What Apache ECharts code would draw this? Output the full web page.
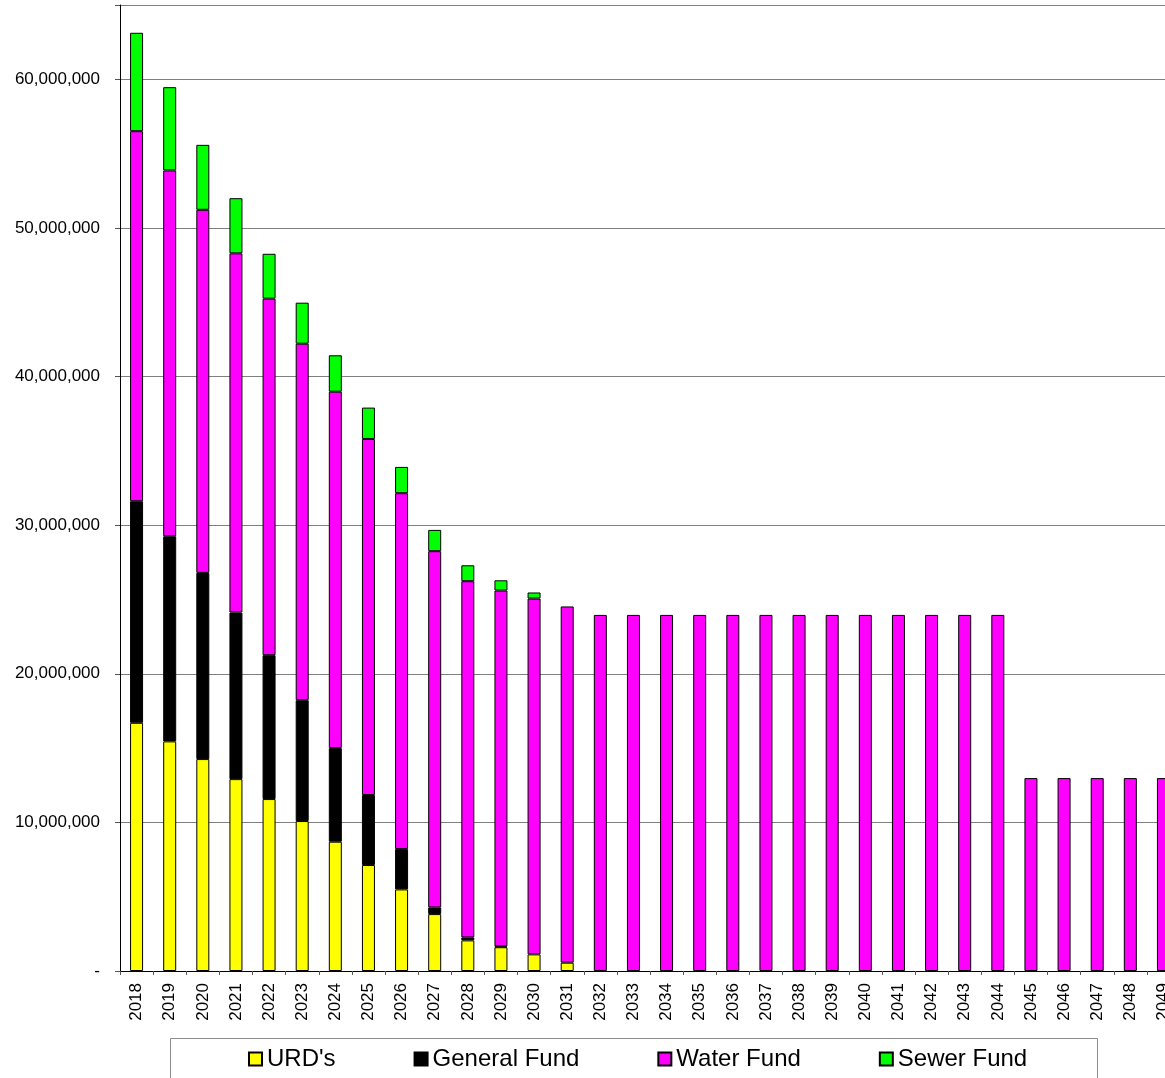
<!DOCTYPE html>
<html>
<head>
<meta charset="utf-8">
<title>Outstanding Debt by Fund</title>
<script src="https://cdn.jsdelivr.net/npm/echarts@6/dist/echarts.min.js"></script>
<style>
  html, body { margin: 0; padding: 0; background: #ffffff; overflow: hidden; }
  /* the plot runs past the right edge of the page, so the last year is clipped */
  #chart { width: 1180px; height: 1078px; }
</style>
</head>
<body>
<div id="chart"></div>
<script>
// Fiscal years on the category axis
const years = ['2018','2019','2020','2021','2022','2023','2024','2025','2026','2027',
  '2028','2029','2030','2031','2032','2033','2034','2035','2036','2037','2038','2039',
  '2040','2041','2042','2043','2044','2045','2046','2047','2048','2049'];

// Outstanding balances by fund (dollars)
const urds = [16700000, 15450000, 14260000, 12910000, 11570000, 10090000, 8700000, 7130000,
  5490000, 3830000, 2060000, 1600000, 1120000, 560000,
  null, null, null, null, null, null, null, null, null, null, null, null, null,
  null, null, null, null, null];
const generalFund = [14910000, 13800000, 12530000, 11210000, 9680000, 8130000, 6300000, 4710000,
  2710000, 450000, 200000, 60000, null, null,
  null, null, null, null, null, null, null, null, null, null, null, null, null,
  null, null, null, null, null];
const waterFund = [24900000, 24620000, 24430000, 24170000, 23990000, 23990000, 23980000, 23960000,
  23950000, 23970000, 23970000, 23940000, 23940000, 23970000,
  23960000, 23960000, 23960000, 23960000, 23960000, 23960000, 23960000, 23960000,
  23960000, 23960000, 23960000, 23960000, 23960000,
  12980000, 12980000, 12980000, 12980000, 12980000];
const sewerFund = [6620000, 5600000, 4370000, 3710000, 3020000, 2760000, 2450000, 2110000,
  1770000, 1430000, 1070000, 690000, 410000, null,
  null, null, null, null, null, null, null, null, null, null, null, null, null,
  null, null, null, null, null];

// Value-axis settings
const yMax = 65000000;
const yStep = 10000000;

const FONT = '"Liberation Sans", Arial, sans-serif';

function fmtMoney(v) {
  if (v === 0) return '-';
  if (v > 60000000) return '';
  return v.toLocaleString('en-US');
}

function barSeries(name, data, color) {
  return {
    name: name,
    type: 'bar',
    stack: 'debt',
    data: data,
    barWidth: 13,
    itemStyle: { color: color, borderColor: '#000000', borderWidth: 1 },
    emphasis: { disabled: true }
  };
}

const chart = echarts.init(document.getElementById('chart'), null, { renderer: 'canvas' });

chart.setOption({
  animation: false,
  backgroundColor: '#ffffff',
  textStyle: { fontFamily: FONT },
  grid: { left: 120, top: 5, right: 0, bottom: 107, containLabel: false },
  legend: {
    left: 248,
    top: 1047,
    padding: 0,
    itemWidth: 13,
    itemHeight: 13,
    itemGap: 78,
    icon: 'rect',
    textStyle: { fontFamily: FONT, fontSize: 24, color: '#000000' },
    data: ["URD's", 'General Fund', 'Water Fund', 'Sewer Fund']
  },
  xAxis: {
    type: 'category',
    data: years,
    boundaryGap: true,
    axisLine: { lineStyle: { color: '#000000', width: 1 } },
    axisTick: { show: true, length: 4, lineStyle: { color: '#555555' } },
    axisLabel: {
      rotate: 90,
      margin: 12,
      fontSize: 17,
      fontFamily: FONT,
      color: '#000000',
      interval: 0
    },
    splitLine: { show: false }
  },
  yAxis: {
    type: 'value',
    min: 0,
    max: yMax,
    interval: yStep,
    axisLine: { show: true, lineStyle: { color: '#000000', width: 1 } },
    axisTick: { show: true, length: 5, lineStyle: { color: '#555555' } },
    axisLabel: {
      margin: 20,
      fontSize: 17,
      fontFamily: FONT,
      color: '#000000',
      formatter: fmtMoney
    },
    splitLine: { show: true, lineStyle: { color: '#7f7f7f', width: 1 } }
  },
  graphic: [
    {
      type: 'rect',
      shape: { x: 170.5, y: 1038.5, width: 927, height: 60 },
      style: { fill: 'none', stroke: '#8c8c8c', lineWidth: 1 },
      silent: true,
      z: -1
    }
  ],
  series: [
    barSeries("URD's", urds, '#ffff00'),
    barSeries('General Fund', generalFund, '#000000'),
    barSeries('Water Fund', waterFund, '#ff00ff'),
    barSeries('Sewer Fund', sewerFund, '#00ff00')
  ]
});
</script>
</body>
</html>
